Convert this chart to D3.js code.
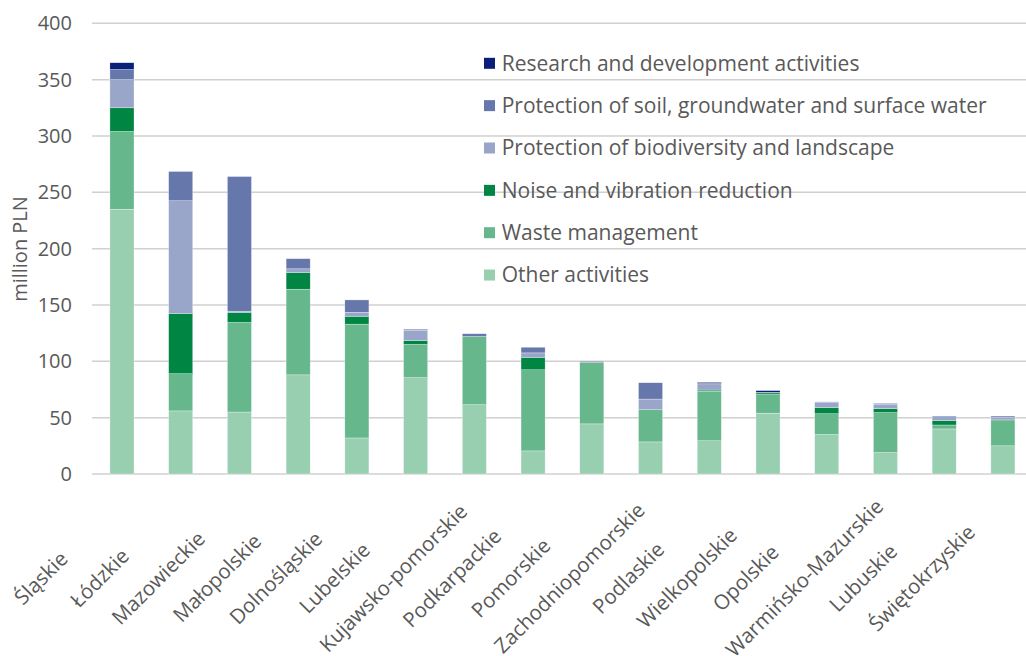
<!DOCTYPE html>
<html><head><meta charset="utf-8">
<script src="https://cdn.jsdelivr.net/npm/d3@7"></script>
<style>body{margin:0;background:#fff}svg{display:block}text{font-family:"Open Sans",sans-serif;fill:#595959}</style>
</head><body><svg id="c" width="1026" height="656"></svg>
<script>
const categories = ["Śląskie","Łódzkie","Mazowieckie","Małopolskie","Dolnośląskie","Lubelskie","Kujawsko-pomorskie","Podkarpackie","Pomorskie","Zachodniopomorskie","Podlaskie","Wielkopolskie","Opolskie","Warmińsko-Mazurskie","Lubuskie","Świętokrzyskie"];
const otherActivities = [235,56,55,88,32,85.5,61.5,20.5,44.5,28.5,29.5,54,35,19,40,25];
const wasteManagement = [69,33,79.5,76,101,29.5,60.5,72,54.5,28.5,44,17,18.5,35.5,3.5,23];
const noiseReduction = [21,53.5,9,14.8,7,3.5,0,11,0,0,1,1.2,5.5,3.5,3.8,0];
const biodiversity = [25,100,1,3.3,3.5,9,0,4,0,9.5,5.5,0.3,4.5,4,4.2,2.2];
const soilWater = [9,26,119.5,9,11,1,2.5,5,1,14.5,0.3,0,0.5,0.7,0,1.2];
const researchDev = [6,0,0,0,0,0,0,0,0,0,1,1.5,0,0,0,0];
const seriesNames = ["Other activities","Waste management","Noise and vibration reduction","Protection of biodiversity and landscape","Protection of soil, groundwater and surface water","Research and development activities"];
const seriesColors = ["#99cfb1","#66b78c","#008542","#99a5c9","#6677ac","#0a1f78"];
const yTicks = [0,50,100,150,200,250,300,350,400];

const seriesValues = [otherActivities,wasteManagement,noiseReduction,biodiversity,soilWater,researchDev];
const rows = categories.map((c,i)=>{const r={cat:c}; seriesNames.forEach((s,j)=>r[s]=seriesValues[j][i]); return r;});
const stack = d3.stack().keys(seriesNames)(rows);

const svg = d3.select("#c");
const x = d3.scaleBand().domain(categories).range([92.6, 92.6+58.73*16]).paddingInner(0.59).paddingOuter(0.295);
const y = d3.scaleLinear().domain([0,400]).range([474,23.3]);

svg.append("g").selectAll("line").data(yTicks).join("line")
  .attr("x1",92).attr("x2",1026).attr("y1",d=>y(d)).attr("y2",d=>y(d))
  .attr("stroke","#d0d0d0").attr("stroke-width",1.5);

const yAxis = d3.axisLeft(y).tickValues(yTicks).tickSize(0).tickPadding(0);
const ya = svg.append("g").attr("transform","translate(72,0)").call(yAxis);
ya.select(".domain").remove();
ya.selectAll("text").style("font-size","20px").style("font-family","'Open Sans',sans-serif").attr("fill","#595959");

svg.append("g").selectAll("g").data(stack).join("g")
  .attr("fill",(d,i)=>seriesColors[i])
  .selectAll("rect").data(d=>d.filter(p=>p[1]-p[0]>0)).join("rect")
  .attr("x",d=>x(d.data.cat)).attr("width",x.bandwidth())
  .attr("y",d=>y(d[1])).attr("height",d=>y(d[0])-y(d[1]))
  .attr("stroke","#ffffff").attr("stroke-width",0.5).attr("stroke-opacity",0.6);

svg.append("g").selectAll("text").data(categories).join("text")
  .attr("transform",d=>`translate(${x(d)+x.bandwidth()/2-81},578) rotate(-45)`)
  .attr("text-anchor","middle").attr("dy","0.35em")
  .style("font-size","20.5px").text(d=>d);

svg.append("text").attr("transform","translate(20,249) rotate(-90)")
  .attr("text-anchor","middle").attr("dy","0.35em").style("font-size","20px").text("million PLN");

const legOrder = seriesNames.map((n,i)=>i).reverse();
const lg = svg.append("g").selectAll("g").data(legOrder).join("g")
  .attr("transform",(d,i)=>`translate(484,${63.3+i*42.35})`);
lg.append("rect").attr("x",0).attr("y",-5.5).attr("width",11).attr("height",11).attr("fill",d=>seriesColors[d]);
lg.append("text").attr("x",17.7).attr("dy","0.35em").style("font-size","21px").text(d=>seriesNames[d]);
</script></body></html>
